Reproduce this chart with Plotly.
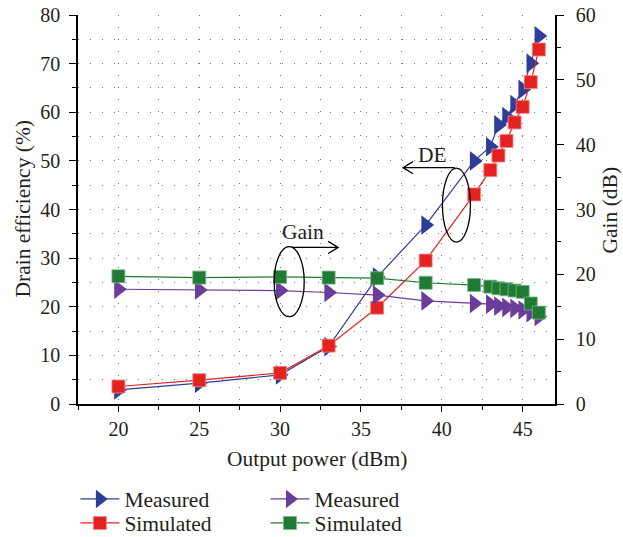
import plotly.graph_objects as go

# Output power sweep points (dBm)
pout = [20, 25, 30, 33, 36, 39, 42, 43, 43.5, 44, 44.5, 45, 45.5, 46]

# Drain efficiency (%)
de_measured = [2.9, 4.3, 6.0, 11.8, 26.1, 36.8, 50.0, 52.9, 57.4, 59.1, 61.6, 64.7, 70.1, 75.7]
de_simulated = [3.6, 4.9, 6.4, 12.0, 19.8, 29.5, 43.1, 48.1, 51.1, 54.1, 57.9, 61.1, 66.2, 72.9]

# Gain (dB)
gain_measured = [17.7, 17.6, 17.5, 17.2, 16.8, 15.9, 15.5, 15.4, 15.1, 14.9, 14.75, 14.5, 14.1, 13.5]
gain_simulated = [19.7, 19.5, 19.6, 19.5, 19.4, 18.7, 18.35, 18.1, 17.85, 17.7, 17.5, 17.3, 15.5, 14.1]

x_ticks = [20, 25, 30, 35, 40, 45]

FONT = "Liberation Serif, Times New Roman, serif"
INK = "#231f20"
BLUE = "#2f3c98"
RED = "#e4221f"
PURPLE = "#6a3d9a"
GREEN = "#1f7a34"
GRID = "#7a7a7a"
DOTS = "1px,11px"

fig = go.Figure()

fig.add_trace(go.Scatter(
    x=pout, y=de_measured, name="Measured", mode="lines+markers",
    line=dict(color=BLUE, width=1.2),
    marker=dict(symbol="triangle-right", size=17, color=BLUE),
    legend="legend", yaxis="y",
))
fig.add_trace(go.Scatter(
    x=pout, y=de_simulated, name="Simulated", mode="lines+markers",
    line=dict(color=RED, width=1.2),
    marker=dict(symbol="square", size=13, color=RED, line=dict(color="#f08a88", width=0.8)),
    legend="legend2", yaxis="y",
))
fig.add_trace(go.Scatter(
    x=pout, y=gain_measured, name="Measured", mode="lines+markers",
    line=dict(color=PURPLE, width=1.2),
    marker=dict(symbol="triangle-right", size=17, color=PURPLE),
    legend="legend3", yaxis="y2",
))
fig.add_trace(go.Scatter(
    x=pout, y=gain_simulated, name="Simulated", mode="lines+markers",
    line=dict(color=GREEN, width=1.2),
    marker=dict(symbol="square", size=13, color=GREEN, line=dict(color="#7fb78a", width=0.8)),
    legend="legend4", yaxis="y2",
))

# Ellipses marking the two curve families, with open arrows to their axes
shapes = [
    dict(type="circle", xref="x", yref="y", x0=40.04, x1=41.77, y0=33.3, y1=48.5,
         line=dict(color="black", width=1.3)),
    dict(type="circle", xref="x", yref="y", x0=29.63, x1=31.49, y0=17.95, y1=32.35,
         line=dict(color="black", width=1.3)),
    dict(type="path", xref="x", yref="y",
         path="M40.8,48.6 L37.6,48.6 M38.22,49.85 L37.6,48.6 L38.22,47.35",
         line=dict(color="black", width=1.3)),
    dict(type="path", xref="x", yref="y",
         path="M30.71,32.2 L33.59,32.2 M32.97,33.45 L33.59,32.2 L32.97,30.95",
         line=dict(color="black", width=1.3)),
]

title_font = dict(family=FONT, size=21.5, color=INK)
tick_font = dict(family=FONT, size=20, color=INK)

annotations = [
    dict(x=39.44, y=51.2, xref="x", yref="y", text="DE", showarrow=False, font=title_font),
    dict(x=31.42, y=35.4, xref="x", yref="y", text="Gain", showarrow=False, font=title_font),
    # axis titles
    dict(x=0.501, y=-0.1414, xref="paper", yref="paper", text="Output power (dBm)",
         showarrow=False, xanchor="center", yanchor="middle", font=title_font),
    dict(x=-0.1174, y=0.5, xref="paper", yref="paper", text="Drain efficiency (%)",
         showarrow=False, xanchor="center", yanchor="middle", textangle=-90, font=title_font),
    dict(x=1.1153, y=0.5, xref="paper", yref="paper", text="Gain (dB)",
         showarrow=False, xanchor="center", yanchor="middle", textangle=-90, font=title_font),
]


def legend_box(x, y):
    return dict(
        x=x, y=y, xanchor="left", yanchor="middle", orientation="v",
        font=dict(family=FONT, size=21.5, color=INK), bgcolor="rgba(0,0,0,0)",
        itemwidth=39,
    )


fig.update_layout(
    width=623, height=537,
    margin=dict(l=78, r=68, t=15, b=133, autoexpand=False),
    paper_bgcolor="white", plot_bgcolor="white",
    font=dict(family=FONT, color=INK),
    showlegend=True,
    shapes=shapes, annotations=annotations,
    xaxis=dict(
        range=[17.5, 47], tickvals=x_ticks, ticks="outside", ticklen=6, tickwidth=1.2,
        tickcolor="black", tickfont=tick_font, ticklabelstandoff=0,
        showline=True, linecolor="black", linewidth=1.5, zeroline=False,
        showgrid=True, gridcolor=GRID, gridwidth=1, griddash=DOTS,
        minor=dict(dtick=2.5, tick0=17.5, ticks="outside", ticklen=4, tickcolor="black",
                   showgrid=True, gridcolor=GRID, gridwidth=1, griddash=DOTS),
    ),
    xaxis2=dict(
        range=[17.5, 47], overlaying="x", side="top", anchor="y",
        tickvals=x_ticks, ticks="inside", ticklen=7, tickcolor="black",
        showticklabels=False, showline=True, linecolor="black", linewidth=1.5,
        showgrid=False, zeroline=False,
        minor=dict(dtick=2.5, tick0=17.5, ticks="inside", ticklen=4, tickcolor="black",
                   showgrid=False),
    ),
    yaxis=dict(
        range=[0, 80], dtick=10, ticks="outside", ticklen=7, tickwidth=1.2,
        tickcolor="black", tickfont=tick_font, ticklabelstandoff=5,
        showline=True, linecolor="black", linewidth=1.5, zeroline=False,
        showgrid=True, gridcolor=GRID, gridwidth=1, griddash=DOTS,
        minor=dict(dtick=5, ticks="outside", ticklen=4, tickcolor="black",
                   showgrid=True, gridcolor=GRID, gridwidth=1, griddash=DOTS),
    ),
    yaxis2=dict(
        range=[0, 60], dtick=10, overlaying="y", side="right", anchor="x",
        ticks="outside", ticklen=7, tickwidth=1.2, tickcolor="black",
        tickfont=tick_font, ticklabelstandoff=8,
        showline=True, linecolor="black", linewidth=1.5, zeroline=False,
        showgrid=False,
        minor=dict(dtick=5, ticks="outside", ticklen=4, tickcolor="black", showgrid=False),
    ),
    legend=legend_box(-0.0055, -0.2442),
    legend2=legend_box(-0.0055, -0.3059),
    legend3=legend_box(0.393, -0.2442),
    legend4=legend_box(0.393, -0.3059),
)

fig.write_html("out.html")
